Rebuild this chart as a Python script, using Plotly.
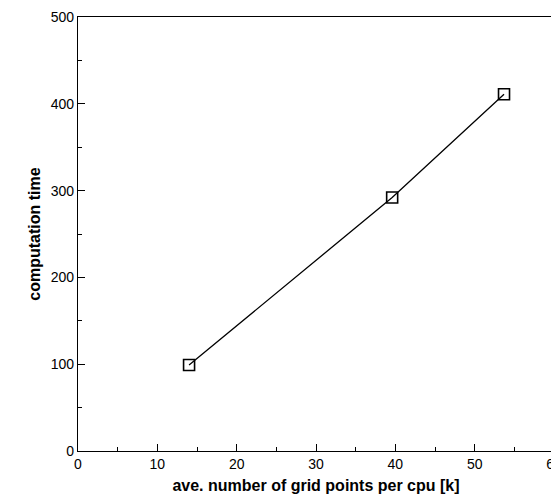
import plotly.graph_objects as go

# ave. number of grid points per cpu [k] vs computation time
grid_points = [14.0, 39.6, 53.7]
comp_time = [99, 292, 411]

fig = go.Figure()
fig.add_trace(go.Scatter(x=grid_points, y=comp_time, mode='lines+markers',
                         line=dict(color='black', width=1.3),
                         marker=dict(symbol='square-open', size=11, color='black',
                                     line=dict(width=1.6))))

ax_common = dict(showgrid=False, zeroline=False, showline=True, linecolor='black',
                 linewidth=1.3, mirror=True, ticks='inside', ticklen=7,
                 tickcolor='black', tickfont=dict(size=14, color='black'),
                 automargin=False,
                 minor=dict(ticks='inside', ticklen=4, tickcolor='black'))

fig.update_xaxes(range=[0, 60], dtick=10, minor_dtick=5,
                 title=dict(text='<b>ave. number of grid points per cpu [k]</b>',
                            font=dict(size=16, color='black'), standoff=8), **ax_common)
fig.update_yaxes(range=[0, 500], dtick=100, minor_dtick=50,
                 title=dict(text='<b>computation time</b>',
                            font=dict(size=16, color='black'), standoff=6), **ax_common)

fig.update_layout(width=559, height=500, showlegend=False,
                  plot_bgcolor='white', paper_bgcolor='white',
                  font=dict(family='Liberation Sans, Arial', color='black'),
                  margin=dict(l=70, r=13, t=9, b=57))

fig.write_html("out.html")
